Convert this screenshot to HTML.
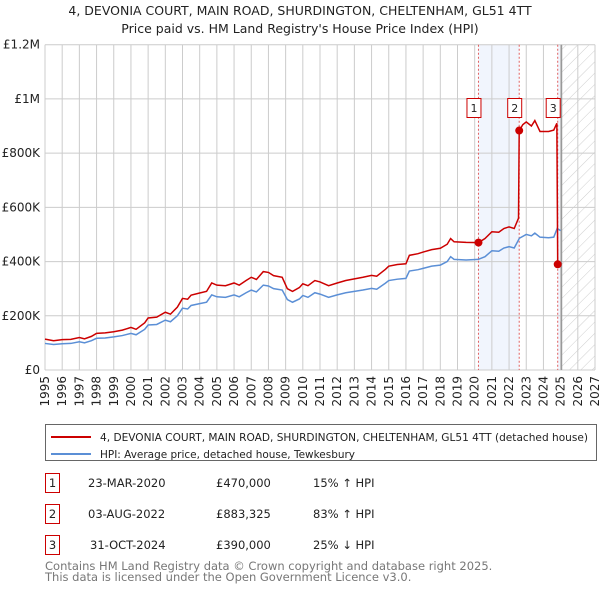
<!DOCTYPE html>
<html><head><meta charset="utf-8"><style>
body{margin:0;background:#fff;font-family:"Liberation Sans","DejaVu Sans",sans-serif;}
svg text{font-family:"DejaVu Sans","Liberation Sans",sans-serif;}
</style></head><body>
<svg id="chart" width="600" height="590" xmlns="http://www.w3.org/2000/svg">
<defs><pattern id="hatch" width="8" height="8" patternUnits="userSpaceOnUse" patternTransform="rotate(45)"><line x1="0" y1="0" x2="0" y2="8" stroke="#cfcfcf" stroke-width="1"/></pattern></defs>
<text x="300" y="15" text-anchor="middle" font-size="12.5" fill="#222">4, DEVONIA COURT, MAIN ROAD, SHURDINGTON, CHELTENHAM, GL51 4TT</text>
<text x="300" y="33" text-anchor="middle" font-size="12.5" fill="#222">Price paid vs. HM Land Registry's House Price Index (HPI)</text>
<g id="plot"></g>
<g>
<rect x="45.5" y="424.5" width="551" height="36" fill="#fff" stroke="#666"/>
<line x1="51" y1="437" x2="91" y2="437" stroke="#cc0000" stroke-width="2"/>
<text x="100" y="441" font-size="11" fill="#222" textLength="488" lengthAdjust="spacingAndGlyphs">4, DEVONIA COURT, MAIN ROAD, SHURDINGTON, CHELTENHAM, GL51 4TT (detached house)</text>
<line x1="51" y1="454" x2="91" y2="454" stroke="#5b8fd6" stroke-width="2"/>
<text x="100" y="458" font-size="11" fill="#222" textLength="255" lengthAdjust="spacingAndGlyphs">HPI: Average price, detached house, Tewkesbury</text>
</g>
<g font-size="11.5" fill="#222">
<rect x="45.5" y="473.5" width="14" height="19" fill="#fff" stroke="#cc0000"/><text x="52.5" y="487" text-anchor="middle">1</text>
<text x="88" y="487">23-MAR-2020</text><text x="216" y="487">£470,000</text><text x="313" y="487">15% ↑ HPI</text>
<rect x="45.5" y="504.5" width="14" height="19" fill="#fff" stroke="#cc0000"/><text x="52.5" y="518" text-anchor="middle">2</text>
<text x="88" y="518">03-AUG-2022</text><text x="216" y="518">£883,325</text><text x="313" y="518">83% ↑ HPI</text>
<rect x="45.5" y="535.5" width="14" height="19" fill="#fff" stroke="#cc0000"/><text x="52.5" y="549" text-anchor="middle">3</text>
<text x="90" y="549">31-OCT-2024</text><text x="216" y="549">£390,000</text><text x="313" y="549">25% ↓ HPI</text>
</g>
<text x="45" y="570" font-size="11.5" fill="#777">Contains HM Land Registry data © Crown copyright and database right 2025.</text>
<text x="45" y="581" font-size="11.5" fill="#777">This data is licensed under the Open Government Licence v3.0.</text>
</svg>
<script>
const xTicks=[1995,1996,1997,1998,1999,2000,2001,2002,2003,2004,2005,2006,2007,2008,2009,2010,2011,2012,2013,2014,2015,2016,2017,2018,2019,2020,2021,2022,2023,2024,2025,2026,2027];
const yTicks=[0,200000,400000,600000,800000,1000000,1200000];
const yTickLabels=["£0","£200K","£400K","£600K","£800K","£1M","£1.2M"];
const hpiYears=[1995,1995.5,1996,1996.5,1997,1997.3,1997.7,1998,1998.5,1999,1999.5,2000,2000.3,2000.8,2001,2001.5,2002,2002.3,2002.7,2003,2003.3,2003.5,2004,2004.4,2004.7,2005,2005.5,2006,2006.3,2006.7,2007,2007.3,2007.7,2008,2008.3,2008.8,2009.1,2009.4,2009.8,2010,2010.3,2010.7,2011,2011.5,2012,2012.5,2013,2013.5,2014,2014.3,2014.8,2015,2015.5,2016,2016.2,2016.7,2017,2017.5,2018,2018.4,2018.6,2018.8,2019.5,2020.2,2020.6,2021,2021.4,2021.7,2022,2022.3,2022.6,2023,2023.3,2023.5,2023.8,2024.3,2024.6,2024.8,2025];
const hpiValues=[98,94,97,98,104,100,108,117,118,122,127,135,130,150,166,168,184,178,200,228,225,238,245,250,277,270,268,277,270,285,295,288,313,310,300,295,260,250,262,275,268,285,280,268,277,285,290,295,301,298,320,330,335,338,365,370,375,383,387,400,418,408,406,408,418,440,438,450,455,450,486,500,495,505,490,488,490,522,514];
const priceYears=[1995,1995.5,1996,1996.5,1997,1997.3,1997.7,1998,1998.5,1999,1999.5,2000,2000.3,2000.8,2001,2001.5,2002,2002.3,2002.7,2003,2003.3,2003.5,2004,2004.4,2004.7,2005,2005.5,2006,2006.3,2006.7,2007,2007.3,2007.7,2008,2008.3,2008.8,2009.1,2009.4,2009.8,2010,2010.3,2010.7,2011,2011.5,2012,2012.5,2013,2013.5,2014,2014.3,2014.8,2015,2015.5,2016,2016.2,2016.7,2017,2017.5,2018,2018.4,2018.6,2018.8,2019.5,2020.22,2020.6,2021,2021.4,2021.7,2022,2022.3,2022.55,2022.59,2022.8,2023,2023.3,2023.5,2023.8,2024.3,2024.6,2024.78,2024.83,2025];
const priceValues=[114,108,112,113,120,115,124,135,137,141,147,157,150,174,192,195,213,206,232,264,261,276,284,290,321,313,311,321,313,330,342,334,363,360,348,342,300,290,304,318,311,330,325,311,321,330,336,342,349,346,371,383,389,392,423,429,435,444,449,464,485,473,471,470,485,510,508,522,528,522,560,883,905,915,900,920,880,880,885,910,390,385];
const saleYears=[2020.22,2022.59,2024.83];
const saleValues=[470,883.325,390];
const saleLabels=["1","2","3"];

const NS="http://www.w3.org/2000/svg";
const L=45,R=595,T=44.7,B=370;
const xs=y=>L+(y-1995)/32*(R-L);
const ys=v=>B-v/1200000*(B-T);
const g=document.getElementById('plot');
function mk(tag,attrs,parent){const e=document.createElementNS(NS,tag);for(const k in attrs)e.setAttribute(k,attrs[k]);(parent||g).appendChild(e);return e;}
let s=mk('rect',{x:xs(saleYears[0]),y:T,width:xs(saleYears[1])-xs(saleYears[0]),height:B-T,fill:'#f1f5fd'});


s=mk('rect',{x:xs(saleYears[2]),y:T,width:xs(2025.05)-xs(saleYears[2]),height:B-T,fill:'#f1f5fd'});


s=mk('rect',{x:xs(2025.05),y:T,width:R-xs(2025.05),height:B-T,fill:'url(#hatch)'});


xTicks.forEach(t=>{const x=xs(t);
 let l=mk('line',{x1:x,y1:T,x2:x,y2:B,stroke:'#cccccc','stroke-width':1});
 
 
 let tx=mk('text',{x:0,y:0,'font-size':12,fill:'#222','text-anchor':'end',transform:`translate(${x+4},${B+6}) rotate(-90)`});
 tx.textContent=t;
 
 
});
yTicks.forEach((t,i)=>{const y=ys(t);
 let l=mk('line',{x1:L,y1:y,x2:R,y2:y,stroke:'#cccccc','stroke-width':1});
 
 
 let tx=mk('text',{x:L-5,y:y+4,'font-size':12,fill:'#222','text-anchor':'end'});
 tx.textContent=yTickLabels[i];
 
 
});
let ln=mk('line',{x1:xs(2025.05),y1:T,x2:xs(2025.05),y2:B,stroke:'#999','stroke-width':1.5});


saleYears.forEach(y=>{let l=mk('line',{x1:xs(y),y1:T,x2:xs(y),y2:B,stroke:'#e06060','stroke-width':1,'stroke-dasharray':'2,2'});
 
 });
let p=mk('polyline',{points:hpiYears.map((y,i)=>xs(y)+','+ys(hpiValues[i]*1000)).join(' '),fill:'none',stroke:'#5b8fd6','stroke-width':1.5});


p=mk('polyline',{points:priceYears.map((y,i)=>xs(y)+','+ys(priceValues[i]*1000)).join(' '),fill:'none',stroke:'#cc0000','stroke-width':1.5});


saleYears.forEach((y,i)=>{
 let c=mk('circle',{cx:xs(y),cy:ys(saleValues[i]*1000),r:4,fill:'#cc0000'});
 
 
 let r=mk('rect',{x:xs(y)-11.5,y:98.5,width:14,height:19,fill:'#fff',stroke:'#cc0000'});
 
 
 let t=mk('text',{x:xs(y)-4.5,y:112,'font-size':11,fill:'#222','text-anchor':'middle'});
 t.textContent=saleLabels[i];
 
 
});
</script>
</body></html>
